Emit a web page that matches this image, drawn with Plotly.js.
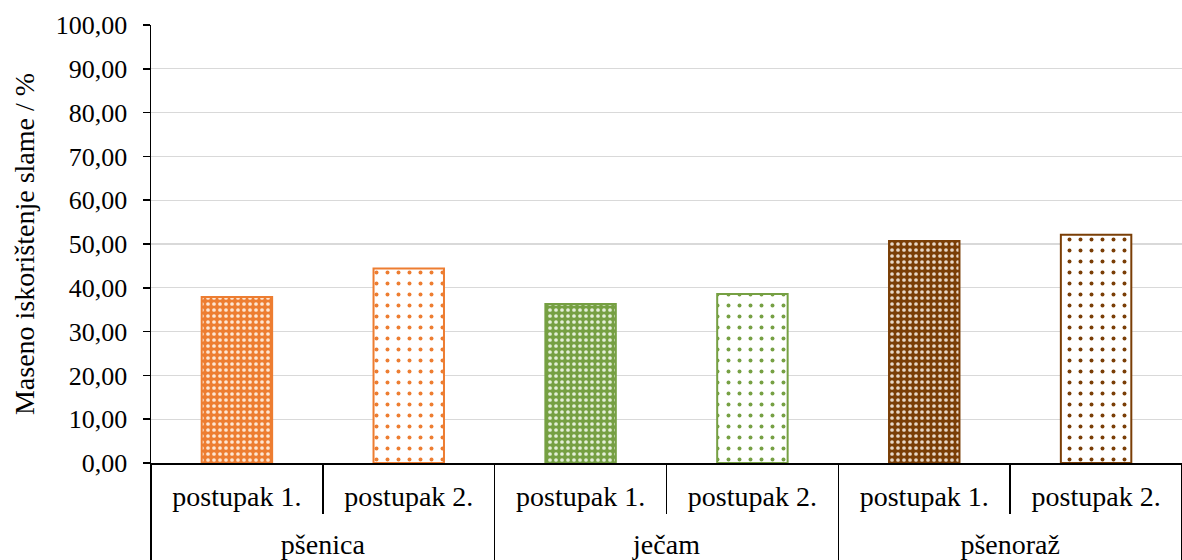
<!DOCTYPE html>
<html><head><meta charset="utf-8">
<script src="https://cdn.plot.ly/plotly-3.0.1.min.js"></script>
<style>html,body{margin:0;padding:0;background:#fff}</style>
</head><body>
<div id="chart" style="width:1182px;height:560px"></div>
<script>
const groups = ["pšenica", "pšenica", "ječam", "ječam", "pšenoraž", "pšenoraž"];
const treatments = ["postupak 1.", "postupak 2.", "postupak 1.", "postupak 2.", "postupak 1.", "postupak 2."];
const values = [37.9, 44.4, 36.3, 38.6, 50.7, 52.1];
const colors = ["#ED7D31", "#ED7D31", "#76A043", "#76A043", "#7A3E06", "#7A3E06"];
const lightColors = ["#FDE6D3", "#FDE6D3", "#E4EFD9", "#E4EFD9", "#E8D8C8", "#E8D8C8"];

const FONT = "Liberation Serif, Times New Roman, serif";
const FS_X = 28, FS_Y = 26, FS_T = 28;
const FS_X_BASE = 23;

const lvl1 = treatments.map(t => `<span style="font-size:${FS_X}px">${t}</span><br> `);
const lvl2 = groups.map(g => `<span style="font-size:${FS_X}px">${g}</span>`);

const traces = values.map((v, i) => {
  const filled = treatments[i] === "postupak 1.";
  return {
    type: "bar",
    x: [[lvl2[i]], [lvl1[i]]],
    y: [v],
    marker: {
      color: filled ? colors[i] : "#ffffff",
      line: {color: colors[i], width: 2},
      pattern: {
        shape: ".",
        fgcolor: filled ? lightColors[i] : colors[i],
        fgopacity: 1,
        size: filled ? 6 : 11,
        solidity: filled ? 0.3 : 0.1,
        fillmode: "overlay"
      }
    },
    hoverinfo: "skip"
  };
});

const layout = {
  width: 1182, height: 560,
  margin: {l: 151, r: 0, t: 25, b: 97},
  paper_bgcolor: "#fff", plot_bgcolor: "#fff",
  separators: ", ",
  barmode: "overlay",
  bargap: 0.59,
  showlegend: false,
  font: {family: FONT, size: FS_X, color: "#000"},
  xaxis: {
    type: "multicategory",
    categoryorder: "array",
    categoryarray: [lvl2, lvl1],
    showline: true, linecolor: "#000", linewidth: 1.5,
    ticks: "outside", tickson: "boundaries", ticklen: 49, tickcolor: "#000", tickwidth: 1.5,
    showdividers: true, dividercolor: "#000", dividerwidth: 1.5,
    showgrid: false,
    ticklabelstandoff: 14,
    tickfont: {family: FONT, size: FS_X_BASE, color: "#000"}
  },
  yaxis: {
    range: [0, 100], dtick: 10, tick0: 0,
    tickformat: ".2f",
    showline: true, linecolor: "#000", linewidth: 1.5,
    ticks: "outside", ticklen: 7, tickcolor: "#000", tickwidth: 1.5,
    showgrid: true, gridcolor: "#d9d9d9", gridwidth: 1.3,
    zeroline: false,
    ticklabelstandoff: 10,
    tickfont: {family: FONT, size: FS_Y, color: "#000"},
    title: {text: "Maseno iskorištenje slame / %", font: {family: FONT, size: FS_T, color: "#000"}, standoff: 13}
  }
};

Plotly.newPlot("chart", traces, layout, {displayModeBar: false, staticPlot: true});
</script>
</body></html>
